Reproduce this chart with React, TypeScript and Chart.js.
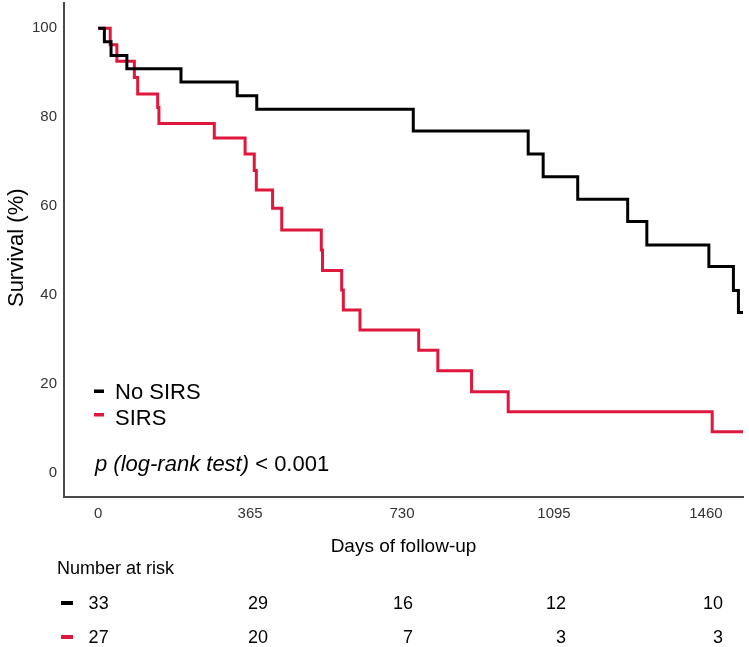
import React, { useEffect, useRef } from "react";
import { Chart, registerables } from "chart.js";

Chart.register(...registerables);

// Kaplan–Meier survival estimates: [day, survival %] at each step
const noSirsDays = [0, 15, 31, 69, 199, 334, 381, 757, 1033, 1069, 1152, 1272, 1318, 1467, 1526, 1538, 1549];
const noSirsSurvival = [100, 97.0, 93.9, 90.9, 87.9, 84.8, 81.8, 76.9, 71.7, 66.6, 61.5, 56.5, 51.2, 46.4, 41.0, 36.0, 36.0];

const sirsDays = [0, 29, 45, 87, 95, 143, 146, 279, 353, 375, 380, 419, 441, 536, 539, 585, 589, 629, 770, 816, 897, 985, 1475, 1549];
const sirsSurvival = [100, 96.3, 92.6, 88.9, 85.2, 82.2, 78.6, 75.3, 71.7, 68.0, 63.6, 59.5, 54.6, 50.1, 45.5, 41.1, 36.6, 32.1, 27.5, 22.9, 18.2, 13.7, 9.2, 9.2];

const xTicks = [0, 365, 730, 1095, 1460];
const yTicks = [0, 20, 40, 60, 80, 100];

const groupNames = ["No SIRS", "SIRS"];
const groupColors = ["#000000", "#E0173D"];
const atRiskNoSirs = [33, 29, 16, 12, 10];
const atRiskSirs = [27, 20, 7, 3, 3];

const FONT = "'Liberation Sans', Arial, Helvetica, sans-serif";

function toPoints(days: number[], vals: number[]) {
  return days.map((d, i) => ({ x: d, y: vals[i] }));
}

// Draw text so that its capital letters are vertically centred on cy
function capText(ctx: CanvasRenderingContext2D, text: string, x: number, cy: number, size: number, align: CanvasTextAlign = "left", style = "") {
  ctx.font = `${style} ${size}px ${FONT}`.trim();
  ctx.textAlign = align;
  ctx.textBaseline = "alphabetic";
  ctx.fillText(text, x, cy + size * 0.358);
}

// right edge of each at-risk column, relative to its tick position
const columnShift = [10.5, 18, 11, 12, 17];

const annotations = {
  id: "kmAnnotations",
  afterDraw(chart: any) {
    const ctx: CanvasRenderingContext2D = chart.ctx;
    const area = chart.chartArea;
    const xs = chart.scales.x;
    ctx.save();
    ctx.fillStyle = "#000";

    // y-axis title
    ctx.save();
    ctx.translate(15, (area.top + area.bottom) / 2 - 2);
    ctx.rotate(-Math.PI / 2);
    capText(ctx, "Survival (%)", 0, 0, 22, "center");
    ctx.restore();

    // legend
    const legendY = [391, 416];
    groupNames.forEach((name, i) => {
      ctx.fillStyle = groupColors[i];
      ctx.fillRect(94, legendY[i] - 1.5 - (i === 1 ? 1.5 : 0), 10, 3.5);
      ctx.fillStyle = "#000";
      capText(ctx, name, 115, legendY[i] + (i === 1 ? 1 : 0), 22);
    });

    // log-rank p value
    ctx.font = `italic 22px ${FONT}`;
    const italicPart = "p (log-rank test)";
    const w = ctx.measureText(italicPart).width;
    capText(ctx, italicPart, 95, 463, 22, "left", "italic");
    capText(ctx, " < 0.001", 95 + w, 463, 22);

    // x-axis title
    capText(ctx, "Days of follow-up", (area.left + area.right) / 2, 545, 19, "center");

    // number-at-risk table
    capText(ctx, "Number at risk", 57, 568, 18);
    const rows = [atRiskNoSirs, atRiskSirs];
    const rowY = [603, 637];
    rows.forEach((row, r) => {
      ctx.fillStyle = groupColors[r];
      ctx.fillRect(61, rowY[r] - 2, 12, 4);
      ctx.fillStyle = "#000";
      row.forEach((n, i) => {
        const px = xs.getPixelForValue(xTicks[i]);
        capText(ctx, String(n), px + columnShift[i], rowY[r], 18, "right");
      });
    });
    ctx.restore();
  },
};

export default function App() {
  const canvasRef = useRef<HTMLCanvasElement | null>(null);

  useEffect(() => {
    const canvas = canvasRef.current;
    if (!canvas) return;
    const chart = new Chart(canvas, {
      type: "line",
      data: {
        datasets: [
          {
            label: groupNames[0],
            data: toPoints(noSirsDays, noSirsSurvival),
            borderColor: groupColors[0],
            borderWidth: 3,
            stepped: "before",
            pointRadius: 0,
            fill: false,
            borderJoinStyle: "miter",
          },
          {
            label: groupNames[1],
            data: toPoints(sirsDays, sirsSurvival),
            borderColor: groupColors[1],
            borderWidth: 3,
            stepped: "before",
            pointRadius: 0,
            fill: false,
            borderJoinStyle: "miter",
          },
        ],
      },
      options: {
        responsive: false,
        animation: false,
        layout: { padding: { left: 0, top: 3, right: 6, bottom: 0 } },
        plugins: { legend: { display: false }, tooltip: { enabled: false } },
        scales: {
          x: {
            type: "linear",
            min: -82,
            max: 1549,
            grid: { display: false, drawTicks: false },
            border: { display: true, color: "#4a4a4a", width: 2 },
            afterBuildTicks: (s: any) => {
              s.ticks = xTicks.map((v) => ({ value: v }));
            },
            afterFit: (s: any) => {
              s.height = 150.5;
              s.paddingLeft = 0;
              s.paddingRight = 0;
            },
            ticks: {
              padding: 8,
              color: "#333",
              font: { family: FONT, size: 15 },
              maxRotation: 0,
              autoSkip: false,
              callback: (v: any) => String(v),
            },
          },
          y: {
            type: "linear",
            min: -5.4,
            max: 105.7,
            grid: { display: false, drawTicks: false },
            border: { display: true, color: "#4a4a4a", width: 2 },
            afterBuildTicks: (s: any) => {
              s.ticks = yTicks.map((v) => ({ value: v }));
            },
            afterFit: (s: any) => {
              s.width = 64;
              s.paddingTop = 0;
              s.paddingBottom = 0;
            },
            ticks: {
              padding: 7,
              color: "#333",
              font: { family: FONT, size: 15 },
              autoSkip: false,
              callback: (v: any) => String(v),
            },
          },
        },
      },
      plugins: [annotations],
    });
    return () => chart.destroy();
  }, []);

  return (
    <div style={{ position: "fixed", left: 0, top: 0, width: 749, height: 647, background: "#fff" }}>
      <canvas ref={canvasRef} width={749} height={647} style={{ display: "block" }} />
    </div>
  );
}
